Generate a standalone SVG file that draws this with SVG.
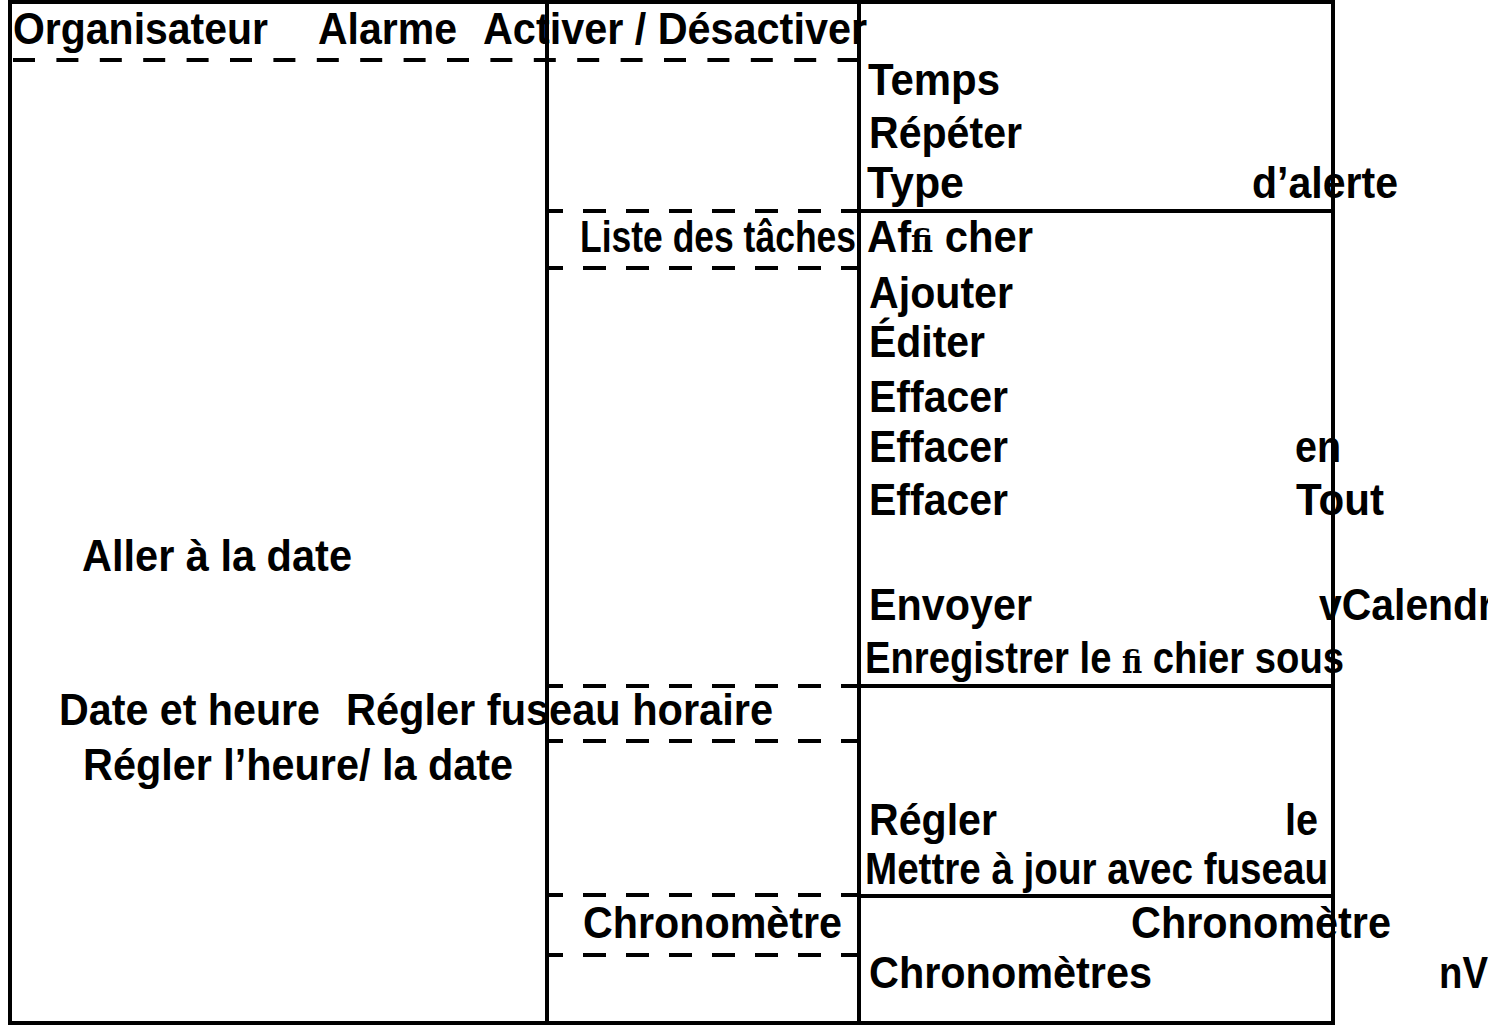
<svg xmlns="http://www.w3.org/2000/svg" width="1498" height="1028" viewBox="0 0 1498 1028">
<style>
.t{font-family:"Liberation Sans",Arial,Helvetica,sans-serif;font-weight:bold;font-size:44px;fill:#000}
.lig{font-family:"DejaVu Serif","Liberation Serif",serif;font-weight:bold;font-size:32px}
.s{stroke:#000;stroke-width:4;fill:none}
.d{stroke:#000;stroke-width:4;fill:none;stroke-dasharray:23 20;stroke-dashoffset:5}
.d1{stroke:#000;stroke-width:4;fill:none;stroke-dasharray:22 21.4}
</style>
<defs>
<clipPath id="page"><rect x="0" y="0" width="1488" height="1028"/></clipPath>
</defs>
<rect width="1498" height="1028" fill="#fff"/>
<g id="connectors">
<line class="s" x1="8" y1="2" x2="1335" y2="2"/>
<line class="s" x1="8" y1="1023" x2="1335" y2="1023"/>
<line class="s" x1="10" y1="0" x2="10" y2="1025"/>
<line class="s" x1="547" y1="0" x2="547" y2="1025"/>
<line class="s" x1="859" y1="0" x2="859" y2="1025"/>
<line class="s" x1="1333" y1="0" x2="1333" y2="1025"/>
<line class="d1" x1="13" y1="60" x2="859" y2="60"/>
<line class="d" x1="545" y1="211" x2="859" y2="211"/>
<line class="d" x1="545" y1="268" x2="859" y2="268"/>
<line class="d" x1="545" y1="686" x2="859" y2="686"/>
<line class="d" x1="545" y1="741" x2="859" y2="741"/>
<line class="d" x1="545" y1="895" x2="859" y2="895"/>
<line class="d" x1="545" y1="955" x2="859" y2="955"/>
<line class="s" x1="859" y1="211" x2="1333" y2="211"/>
<line class="s" x1="859" y1="686" x2="1333" y2="686"/>
<line class="s" x1="859" y1="896" x2="1333" y2="896"/>
</g>
<g id="header">
<text class="t" x="13" y="44" textLength="255" lengthAdjust="spacingAndGlyphs">Organisateur</text>
<text class="t" x="318" y="44" textLength="139" lengthAdjust="spacingAndGlyphs">Alarme</text>
<text class="t" x="483" y="44" textLength="384" lengthAdjust="spacingAndGlyphs">Activer / Désactiver</text>
</g>
<g id="col-left">
<text class="t" x="82" y="571" textLength="270" lengthAdjust="spacingAndGlyphs">Aller à la date</text>
<text class="t" x="59" y="725" textLength="261" lengthAdjust="spacingAndGlyphs">Date et heure</text>
<text class="t" x="346" y="725" textLength="427" lengthAdjust="spacingAndGlyphs">Régler fuseau horaire</text>
<text class="t" x="83" y="780" textLength="430" lengthAdjust="spacingAndGlyphs">Régler l’heure/ la date</text>
</g>
<g id="col-middle">
<text class="t" x="580" y="252" textLength="276" lengthAdjust="spacingAndGlyphs">Liste des tâches</text>
<text class="t" x="583" y="938" textLength="259" lengthAdjust="spacingAndGlyphs">Chronomètre</text>
</g>
<g id="cell-alarme">
<text class="t" x="868" y="95" textLength="132" lengthAdjust="spacingAndGlyphs">Temps</text>
<text class="t" x="869" y="148" textLength="153" lengthAdjust="spacingAndGlyphs">Répéter</text>
<text class="t" x="867" y="198" textLength="97" lengthAdjust="spacingAndGlyphs">Type</text>
<text class="t" x="1252" y="198" textLength="146" lengthAdjust="spacingAndGlyphs">d’alerte</text>
</g>
<g id="cell-taches" clip-path="url(#page)">
<text class="t" x="867" y="252" textLength="166" lengthAdjust="spacingAndGlyphs">Af<tspan class="lig">ﬁ</tspan> cher</text>
<text class="t" x="869" y="308" textLength="144" lengthAdjust="spacingAndGlyphs">Ajouter</text>
<text class="t" x="869" y="357" textLength="116" lengthAdjust="spacingAndGlyphs">Éditer</text>
<text class="t" x="869" y="412" textLength="139" lengthAdjust="spacingAndGlyphs">Effacer</text>
<text class="t" x="869" y="462" textLength="139" lengthAdjust="spacingAndGlyphs">Effacer</text>
<text class="t" x="1295" y="462" textLength="46" lengthAdjust="spacingAndGlyphs">en</text>
<text class="t" x="869" y="515" textLength="139" lengthAdjust="spacingAndGlyphs">Effacer</text>
<text class="t" x="1296" y="515" textLength="88" lengthAdjust="spacingAndGlyphs">Tout</text>
<text class="t" x="869" y="620" textLength="163" lengthAdjust="spacingAndGlyphs">Envoyer</text>
<text class="t" x="1319" y="620" textLength="175" lengthAdjust="spacingAndGlyphs">vCalendr</text>
<text class="t" x="865" y="673" textLength="479" lengthAdjust="spacingAndGlyphs">Enregistrer le <tspan class="lig">ﬁ</tspan> chier sous</text>
</g>
<g id="cell-date">
<text class="t" x="869" y="835" textLength="128" lengthAdjust="spacingAndGlyphs">Régler</text>
<text class="t" x="1285" y="835" textLength="33" lengthAdjust="spacingAndGlyphs">le</text>
<text class="t" x="865" y="884" textLength="463" lengthAdjust="spacingAndGlyphs">Mettre à jour avec fuseau</text>
</g>
<g id="cell-chrono">
<text class="t" x="1131" y="938" textLength="260" lengthAdjust="spacingAndGlyphs">Chronomètre</text>
<text class="t" x="869" y="988" textLength="283" lengthAdjust="spacingAndGlyphs">Chronomètres</text>
<text class="t" x="1439" y="988" textLength="49" lengthAdjust="spacingAndGlyphs">nV</text>
</g>
</svg>
